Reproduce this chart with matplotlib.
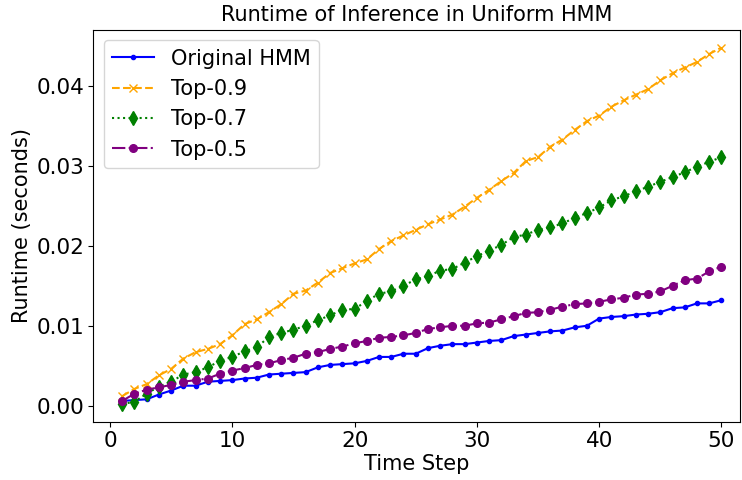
import numpy as np
import matplotlib
matplotlib.use("Agg")
import matplotlib.pyplot as plt

steps = np.arange(1, 51)

original_hmm = [
    0.0006, 0.0007, 0.0008, 0.0014, 0.0019, 0.0025, 0.0025, 0.0030, 0.0031, 0.0032,
    0.0034, 0.0035, 0.0039, 0.0040, 0.0041, 0.0042, 0.0048, 0.0051, 0.0052, 0.0053,
    0.0056, 0.0061, 0.0061, 0.0065, 0.0065, 0.0072, 0.0075, 0.0077, 0.0077, 0.0079,
    0.0081, 0.0082, 0.0087, 0.0089, 0.0091, 0.0093, 0.0094, 0.0098, 0.0100, 0.0109,
    0.0111, 0.0112, 0.0114, 0.0115, 0.0117, 0.0122, 0.0123, 0.0128, 0.0128, 0.0132,
]

top_09 = [
    0.0012, 0.0021, 0.0027, 0.0038, 0.0046, 0.0059, 0.0067, 0.0071, 0.0077, 0.0088,
    0.0102, 0.0108, 0.0117, 0.0127, 0.0140, 0.0144, 0.0154, 0.0166, 0.0172, 0.0178,
    0.0183, 0.0196, 0.0206, 0.0213, 0.0220, 0.0227, 0.0233, 0.0239, 0.0249, 0.0260,
    0.0270, 0.0281, 0.0291, 0.0306, 0.0311, 0.0324, 0.0333, 0.0345, 0.0356, 0.0363,
    0.0374, 0.0382, 0.0389, 0.0396, 0.0407, 0.0416, 0.0423, 0.0430, 0.0440, 0.0448,
]

top_07 = [
    0.0002, 0.0005, 0.0015, 0.0024, 0.0030, 0.0039, 0.0042, 0.0048, 0.0056, 0.0061,
    0.0068, 0.0073, 0.0086, 0.0091, 0.0095, 0.0100, 0.0107, 0.0113, 0.0120, 0.0121,
    0.0131, 0.0140, 0.0143, 0.0150, 0.0158, 0.0162, 0.0169, 0.0171, 0.0179, 0.0187,
    0.0194, 0.0201, 0.0211, 0.0214, 0.0220, 0.0223, 0.0228, 0.0235, 0.0241, 0.0248,
    0.0257, 0.0262, 0.0268, 0.0274, 0.0280, 0.0286, 0.0292, 0.0299, 0.0305, 0.0311,
]

top_05 = [
    0.0006, 0.0015, 0.0020, 0.0023, 0.0026, 0.0030, 0.0032, 0.0034, 0.0040, 0.0044,
    0.0047, 0.0051, 0.0053, 0.0057, 0.0060, 0.0065, 0.0067, 0.0071, 0.0074, 0.0078,
    0.0081, 0.0085, 0.0086, 0.0088, 0.0091, 0.0096, 0.0098, 0.0100, 0.0100, 0.0103,
    0.0104, 0.0108, 0.0112, 0.0116, 0.0117, 0.0120, 0.0124, 0.0127, 0.0128, 0.0130,
    0.0133, 0.0135, 0.0139, 0.0140, 0.0143, 0.0150, 0.0157, 0.0159, 0.0168, 0.0174,
]

fig = plt.figure(figsize=(7.42, 4.8), dpi=100)
ax = fig.add_axes([0.126, 0.121, 0.871, 0.817])

ax.plot(steps, original_hmm, "-", marker=".", markersize=6, color="blue", label="Original HMM")
ax.plot(steps, top_09, "--", marker="x", markersize=6, color="orange", label="Top-0.9")
ax.plot(steps, top_07, ":", marker="d", markersize=7, color="green", label="Top-0.7")
ax.plot(steps, top_05, "-.", marker="o", markersize=5.5, color="purple", label="Top-0.5")

ax.set_xlim(-1.35, 51.5)
ax.set_title("Runtime of Inference in Uniform HMM", fontsize=15)
ax.set_xlabel("Time Step", fontsize=15, labelpad=2)
ax.set_ylabel("Runtime (seconds)", fontsize=15, labelpad=3)
ax.tick_params(labelsize=15.5, pad=3)
ax.legend(loc="upper left", fontsize=15)

fig.savefig("out.png", dpi=100)
